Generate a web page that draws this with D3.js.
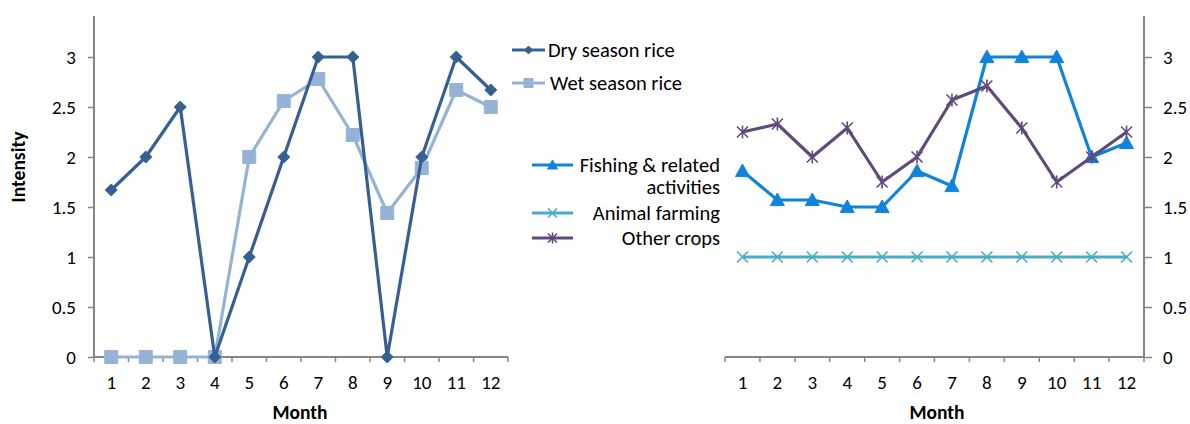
<!DOCTYPE html>
<html>
<head>
<meta charset="utf-8">
<script src="https://cdn.jsdelivr.net/npm/d3@7"></script>
<style>
  html, body { margin: 0; padding: 0; background: #fff; }
  svg { display: block; font-family: Carlito, Lato, "Open Sans", sans-serif; }
</style>
</head>
<body>
<svg id="chart" width="1190" height="424"></svg>
<script>
const months = [1,2,3,4,5,6,7,8,9,10,11,12];
const yTicks = [0, 0.5, 1, 1.5, 2, 2.5, 3];
const yTickLabels = ["0", "0.5", "1", "1.5", "2", "2.5", "3"];

const drySeasonRice = [1.67, 2, 2.5, 0, 1, 2, 3, 3, 0, 2, 3, 2.67];
const wetSeasonRice = [0, 0, 0, 0, 2, 2.56, 2.78, 2.22, 1.44, 1.89, 2.67, 2.5];

const fishing = [1.86, 1.57, 1.57, 1.5, 1.5, 1.86, 1.71, 3, 3, 3, 2, 2.14];
const animalFarming = [1, 1, 1, 1, 1, 1, 1, 1, 1, 1, 1, 1];
const otherCrops = [2.25, 2.33, 2, 2.29, 1.75, 2, 2.57, 2.71, 2.29, 1.75, 2, 2.25];

const C = {
  dry: "#366092", wet: "#95B3D7", fish: "#0F84DD", animal: "#4BACC6", other: "#604A7B", axis: "#868686"
};
const FONT = "Carlito, Lato, 'Open Sans', sans-serif";

const svg = d3.select("#chart");
const y = d3.scaleLinear().domain([0, 3.41]).range([357, 16]);

function markerPath(type, size) {
  const s = size / 2;
  if (type === "diamond") return `M0,${-s}L${s},0L0,${s}L${-s},0Z`;
  if (type === "square") return `M${-s},${-s}H${s}V${s}H${-s}Z`;
  if (type === "triangle") return `M0,${-s}L${s},${s*0.8}L${-s},${s*0.8}Z`;
  if (type === "x") return `M${-s},${-s}L${s},${s}M${s},${-s}L${-s},${s}`;
  if (type === "star") return `M${-s},${-s}L${s},${s}M${s},${-s}L${-s},${s}M0,${-s*1.2}V${s*1.2}`;
}

function drawMarker(g, type, color, size, x0, y0) {
  const filled = type === "diamond" || type === "square" || type === "triangle";
  g.append("path")
    .attr("d", markerPath(type, size))
    .attr("transform", `translate(${x0},${y0})`)
    .attr("fill", filled ? color : "none")
    .attr("stroke", color)
    .attr("stroke-width", filled ? 1 : 1.6);
}

function drawSeries(g, x, values, color, marker, msize) {
  const line = d3.line().x((d, i) => x(months[i]) + x.bandwidth() / 2).y(d => y(d));
  g.append("path").datum(values).attr("d", line)
    .attr("fill", "none").attr("stroke", color).attr("stroke-width", 3.2)
    .attr("stroke-linejoin", "round");
  values.forEach((v, i) => drawMarker(g, marker, color, msize, x(months[i]) + x.bandwidth() / 2, y(v)));
}

function drawXAxis(x, labelX) {
  const g = svg.append("g").attr("transform", `translate(0,${y(0)})`);
  const ax = d3.axisBottom(x).tickSize(0).tickPadding(19).tickFormat(d => String(d));
  g.call(ax);
  g.attr("font-family", FONT).attr("font-size", 19);
  g.select(".domain").remove();
  g.selectAll("text").attr("fill", "#000");
  const bounds = months.map(m => x(m)).concat([x.range()[1]]);
  g.selectAll("line.tk").data(bounds).enter().append("line").attr("class", "tk")
    .attr("x1", d => d).attr("x2", d => d).attr("y1", 0).attr("y2", 5)
    .attr("stroke", C.axis).attr("stroke-width", 1.5);
  g.append("line").attr("x1", x.range()[0]).attr("x2", x.range()[1]).attr("y1", 0).attr("y2", 0)
    .attr("stroke", C.axis).attr("stroke-width", 2);
  svg.append("text").attr("x", labelX).attr("y", 419).attr("text-anchor", "middle")
    .attr("font-size", 19.5).attr("font-weight", "bold").text("Month");
}

function drawYAxis(xPos, side) {
  const g = svg.append("g").attr("transform", `translate(${xPos},0)`);
  const ax = (side === "left" ? d3.axisLeft(y) : d3.axisRight(y))
    .tickValues(yTicks).tickFormat((d, i) => yTickLabels[i])
    .tickSize(side === "left" ? 6 : 8).tickPadding(side === "left" ? 12 : 11);
  g.call(ax);
  g.attr("font-family", FONT).attr("font-size", 19);
  g.select(".domain").remove();
  g.selectAll(".tick line").attr("stroke", C.axis).attr("stroke-width", 1.5);
  g.selectAll("text").attr("fill", "#000");
  g.append("line").attr("x1", 0).attr("x2", 0).attr("y1", y(0) + 1).attr("y2", y.range()[1])
    .attr("stroke", C.axis).attr("stroke-width", 2);
}

// Left panel
const xL = d3.scaleBand().domain(months).range([94, 508]);
drawXAxis(xL, 300);
drawYAxis(94, "left");
const gL = svg.append("g");
drawSeries(gL, xL, wetSeasonRice, C.wet, "square", 13);
drawSeries(gL, xL, drySeasonRice, C.dry, "diamond", 12);

svg.append("text").attr("transform", "translate(25,167) rotate(-90)")
  .attr("text-anchor", "middle").attr("font-size", 19.5).attr("font-weight", "bold").text("Intensity");

// Right panel
const xR = d3.scaleBand().domain(months).range([725, 1144]);
drawXAxis(xR, 937);
drawYAxis(1144, "right");
const gR = svg.append("g");
drawSeries(gR, xR, animalFarming, C.animal, "x", 11);
drawSeries(gR, xR, fishing, C.fish, "triangle", 14);
drawSeries(gR, xR, otherCrops, C.other, "star", 11);

// Legends
const lg = svg.append("g").attr("font-size", 20.5);
function legendItem(x1, x2, yy, color, marker, msize) {
  lg.append("line").attr("x1", x1).attr("x2", x2).attr("y1", yy).attr("y2", yy)
    .attr("stroke", color).attr("stroke-width", 3.2);
  drawMarker(lg, marker, color, msize, (x1 + x2) / 2, yy);
}
legendItem(512, 545, 50, C.dry, "diamond", 8);
lg.append("text").attr("x", 548).attr("y", 50).attr("dy", "0.35em").text("Dry season rice");
legendItem(512, 545, 83, C.wet, "square", 9);
lg.append("text").attr("x", 550).attr("y", 83).attr("dy", "0.35em").text("Wet season rice");

legendItem(532, 573, 165, C.fish, "triangle", 10);
const ft = lg.append("text").attr("text-anchor", "end");
ft.append("tspan").attr("x", 720).attr("y", 165).attr("dy", "0.35em").text("Fishing & related");
ft.append("tspan").attr("x", 720).attr("y", 187).attr("dy", "0.35em").text("activities");
legendItem(532, 573, 213, C.animal, "x", 9);
lg.append("text").attr("x", 720).attr("y", 213).attr("dy", "0.35em").attr("text-anchor", "end").text("Animal farming");
legendItem(532, 573, 238, C.other, "star", 9);
lg.append("text").attr("x", 720).attr("y", 238).attr("dy", "0.35em").attr("text-anchor", "end").text("Other crops");
</script>
</body>
</html>
